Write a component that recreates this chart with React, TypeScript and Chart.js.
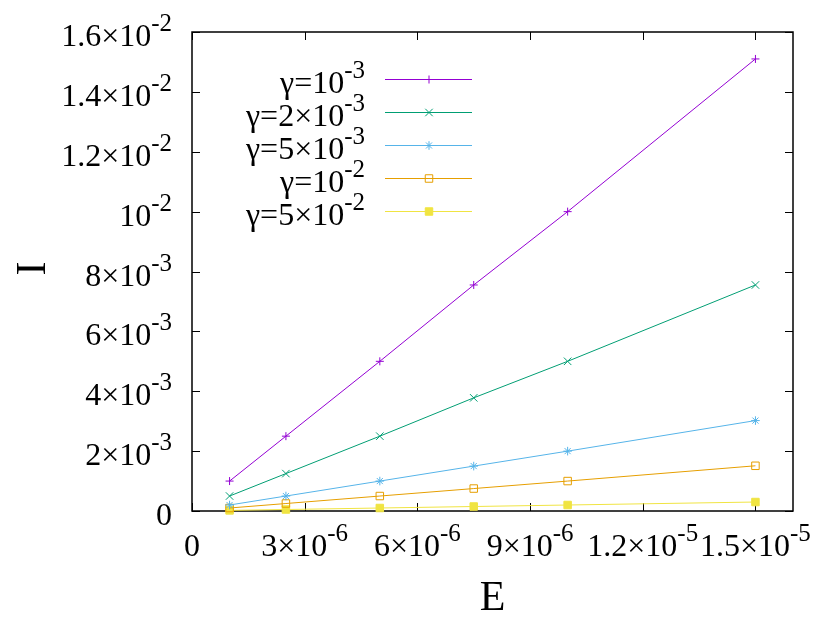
import React, { useEffect, useRef } from 'react';
import { Chart, registerables } from 'chart.js';
import { drawPoint } from 'chart.js/helpers';

Chart.register(...registerables);

// ---- data ----
const E_VALUES = [1e-6, 2.5e-6, 5e-6, 7.5e-6, 1e-5, 1.5e-5];
const I_GAMMA_1E3 = [1.0e-3, 2.5e-3, 5.0e-3, 7.55e-3, 1.0e-2, 1.51e-2];
const I_GAMMA_2E3 = [5.0e-4, 1.25e-3, 2.5e-3, 3.78e-3, 5.0e-3, 7.55e-3];
const I_GAMMA_5E3 = [2.0e-4, 5.0e-4, 1.0e-3, 1.5e-3, 2.0e-3, 3.02e-3];
const I_GAMMA_1E2 = [1.0e-4, 2.5e-4, 5.0e-4, 7.5e-4, 1.0e-3, 1.51e-3];
const I_GAMMA_5E2 = [2.0e-5, 5.0e-5, 1.0e-4, 1.5e-4, 2.0e-4, 3.0e-4];
const LEGEND_BASE = ['γ=10', 'γ=2×10', 'γ=5×10', 'γ=10', 'γ=5×10'];
const LEGEND_SUP = ['-3', '-3', '-3', '-2', '-2'];
const X_TICKS = [0, 3e-6, 6e-6, 9e-6, 1.2e-5, 1.5e-5];
const Y_TICKS = [0, 2e-3, 4e-3, 6e-3, 8e-3, 1e-2, 1.2e-2, 1.4e-2, 1.6e-2];
const X_TITLE = 'E';
const Y_TITLE = 'I';

const COLORS = ['#9400d3', '#009e73', '#56b4e9', '#e69f00', '#f0e442'];
const SERIES = [I_GAMMA_1E3, I_GAMMA_2E3, I_GAMMA_5E3, I_GAMMA_1E2, I_GAMMA_5E2];
const STYLES: { style: string; radius: number; fill: boolean }[] = [
  { style: 'cross', radius: 4, fill: false },
  { style: 'crossRot', radius: 5.3, fill: false },
  { style: 'star', radius: 4.3, fill: false },
  { style: 'rect', radius: 5.3, fill: false },
  { style: 'rect', radius: 5.3, fill: true },
];

const FONT = '"Liberation Serif", "Times New Roman", serif';
const BASE_SIZE = 32;
const SUP_SIZE = 25;
const SUP_RAISE = 15;

function fmt(v: number): [string, string] {
  if (v === 0) return ['0', ''];
  const e = Math.floor(Math.log10(Math.abs(v)) + 1e-9);
  let m = v / Math.pow(10, e);
  m = Math.round(m * 10) / 10;
  if (m === 1) return ['10', String(e)];
  return [`${m}×10`, String(e)];
}

function richWidth(ctx: CanvasRenderingContext2D, base: string, sup: string) {
  ctx.font = `${BASE_SIZE}px ${FONT}`;
  const wb = ctx.measureText(base).width;
  ctx.font = `${SUP_SIZE}px ${FONT}`;
  const ws = sup ? ctx.measureText(sup).width : 0;
  return { wb, ws, total: wb + ws };
}

function drawRich(
  ctx: CanvasRenderingContext2D,
  base: string,
  sup: string,
  x: number,
  y: number,
  align: 'left' | 'center' | 'right'
) {
  const { wb, total } = richWidth(ctx, base, sup);
  let start = x;
  if (align === 'center') start = x - total / 2;
  else if (align === 'right') start = x - total;
  ctx.textAlign = 'left';
  ctx.textBaseline = 'alphabetic';
  ctx.fillStyle = '#000';
  ctx.font = `${BASE_SIZE}px ${FONT}`;
  ctx.fillText(base, start, y);
  if (sup) {
    ctx.font = `${SUP_SIZE}px ${FONT}`;
    ctx.fillText(sup, start + wb, y - SUP_RAISE);
  }
}

const framePlugin = {
  id: 'gnuplotFrame',
  beforeDatasetsDraw(chart: any) {
    const ctx: CanvasRenderingContext2D = chart.ctx;
    const { left, right, top, bottom } = chart.chartArea;
    const xs = chart.scales.x;
    const ys = chart.scales.y;
    ctx.save();
    ctx.strokeStyle = '#000';
    ctx.lineWidth = 1;
    const tl = 8;
    X_TICKS.forEach((v) => {
      const px = Math.round(xs.getPixelForValue(v)) + 0.5;
      ctx.beginPath();
      ctx.moveTo(px, bottom);
      ctx.lineTo(px, bottom - tl);
      ctx.moveTo(px, top);
      ctx.lineTo(px, top + tl);
      ctx.stroke();
    });
    Y_TICKS.forEach((v) => {
      const py = Math.round(ys.getPixelForValue(v)) + 0.5;
      ctx.beginPath();
      ctx.moveTo(left, py);
      ctx.lineTo(left + tl, py);
      ctx.moveTo(right, py);
      ctx.lineTo(right - tl, py);
      ctx.stroke();
    });
    ctx.lineWidth = 1.5;
    ctx.strokeRect(left, top, right - left, bottom - top);
    ctx.restore();
  },
  afterDraw(chart: any) {
    const ctx: CanvasRenderingContext2D = chart.ctx;
    const { left, right, top, bottom } = chart.chartArea;
    const xs = chart.scales.x;
    const ys = chart.scales.y;
    ctx.save();
    // tick labels
    X_TICKS.forEach((v) => {
      const [b, s] = fmt(v);
      drawRich(ctx, b, s, xs.getPixelForValue(v), bottom + 45, 'center');
    });
    Y_TICKS.forEach((v) => {
      const [b, s] = fmt(v);
      drawRich(ctx, b, s, left - 20, ys.getPixelForValue(v) + 14, 'right');
    });
    // axis titles
    ctx.fillStyle = '#000';
    ctx.font = `42px ${FONT}`;
    ctx.textAlign = 'center';
    ctx.textBaseline = 'alphabetic';
    ctx.fillText(X_TITLE, (left + right) / 2, 610);
    ctx.save();
    ctx.translate(45, (top + bottom) / 2 - 3);
    ctx.rotate(-Math.PI / 2);
    ctx.fillText(Y_TITLE, 0, 0);
    ctx.restore();
    // legend
    const rowY0 = 79;
    const rowStep = 33.1;
    for (let i = 0; i < LEGEND_BASE.length; i++) {
      const y = rowY0 + i * rowStep;
      drawRich(ctx, LEGEND_BASE[i], LEGEND_SUP[i], 365, y + 14, 'right');
      ctx.strokeStyle = COLORS[i];
      ctx.lineWidth = 1;
      ctx.beginPath();
      ctx.moveTo(385, Math.round(y) + 0.5);
      ctx.lineTo(472, Math.round(y) + 0.5);
      ctx.stroke();
      const st = STYLES[i];
      ctx.fillStyle = st.fill ? COLORS[i] : 'rgba(0,0,0,0)';
      ctx.strokeStyle = COLORS[i];
      ctx.lineWidth = 1;
      drawPoint(ctx, { pointStyle: st.style as any, radius: st.radius, rotation: 0, borderWidth: 1 } as any, 429, Math.round(y) + 0.5);
    }
    ctx.restore();
  },
};

export default function App() {
  const ref = useRef<HTMLCanvasElement | null>(null);
  useEffect(() => {
    if (!ref.current) return;
    const datasets = SERIES.map((vals, i) => ({
      label: LEGEND_BASE[i] + LEGEND_SUP[i],
      data: E_VALUES.map((e, j) => ({ x: e, y: vals[j] })),
      borderColor: COLORS[i],
      backgroundColor: COLORS[i],
      borderWidth: 1,
      pointStyle: STYLES[i].style as any,
      pointRadius: STYLES[i].radius,
      pointBorderWidth: 1,
      pointBorderColor: COLORS[i],
      pointBackgroundColor: STYLES[i].fill ? COLORS[i] : 'rgba(0,0,0,0)',
      tension: 0,
      clip: false as any,
    }));
    const chart = new Chart(ref.current, {
      type: 'line',
      data: { datasets },
      options: {
        animation: false,
        responsive: false,
        maintainAspectRatio: false,
        layout: { padding: { left: 192, top: 32, right: 37, bottom: 109 } },
        plugins: { legend: { display: false }, tooltip: { enabled: false } },
        events: [],
        scales: {
          x: { type: 'linear', min: 0, max: 1.6e-5, display: false },
          y: { type: 'linear', min: 0, max: 1.6e-2, display: false },
        },
      },
      plugins: [framePlugin],
    });
    return () => chart.destroy();
  }, []);
  return (
    <div style={{ position: 'absolute', left: 0, top: 0, width: 830, height: 620, background: '#fff' }}>
      <canvas ref={ref} width={830} height={620} style={{ display: 'block', width: 830, height: 620 }} />
    </div>
  );
}
